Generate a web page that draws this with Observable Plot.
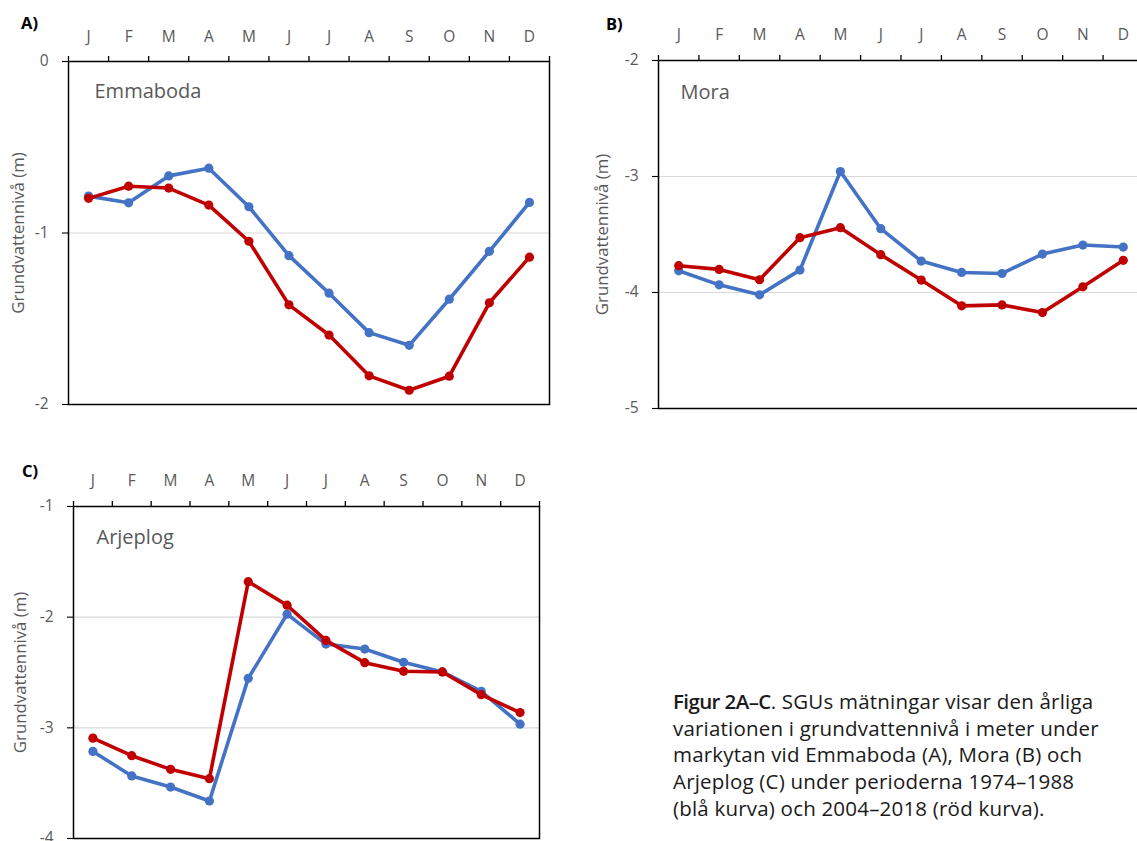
<!DOCTYPE html>
<html>
<head>
<meta charset="utf-8">
<script src="https://cdn.jsdelivr.net/npm/d3@7"></script>
<script src="https://cdn.jsdelivr.net/npm/@observablehq/plot@0.6"></script>
<style>
  html, body { margin: 0; padding: 0; background: #fff; }
  body { width: 1137px; height: 841px; overflow: hidden; position: relative; font-family: "Open Sans", sans-serif; }
  .panel { position: absolute; }
  .panel svg { max-width: none !important; }
  .tag { position: absolute; z-index: 5; font-weight: 700; font-size: 16.5px; line-height: 16.5px; color: #000; font-family: "Open Sans", sans-serif; }
  #caption { position: absolute; z-index: 5; left: 673px; top: 688px; font-size: 20.5px; letter-spacing: 0.2px; line-height: 26.65px; color: #1a1a1a; white-space: nowrap; }
  #caption b { font-weight: 600; letter-spacing: -0.6px; }
</style>
</head>
<body>
<div id="panelA" class="panel" style="left:0px;top:0px;width:559px"></div>
<div id="panelB" class="panel" style="left:570px;top:0px;width:580px"></div>
<div id="panelC" class="panel" style="left:0px;top:450px;width:549px"></div>
<div class="tag" style="left:21px;top:15px">A)</div>
<div class="tag" style="left:606px;top:16px">B)</div>
<div class="tag" style="left:22px;top:463px">C)</div>
<div id="caption"><b>Figur 2A–C</b>. SGUs mätningar visar den årliga<br>variationen i grundvattennivå i meter under<br>markytan vid Emmaboda (A), Mora (B) och<br>Arjeplog (C) under perioderna 1974–1988<br>(blå kurva) och 2004–2018 (röd kurva).</div>
<script>
// Month tick labels
const months = ["J", "F", "M", "A", "M", "J", "J", "A", "S", "O", "N", "D"];

// A) Emmaboda (m)
const emmabodaBlue = [-0.785, -0.824, -0.667, -0.622, -0.847, -1.132, -1.351, -1.581, -1.655, -1.386, -1.107, -0.822];
const emmabodaRed  = [-0.798, -0.727, -0.738, -0.837, -1.048, -1.419, -1.595, -1.833, -1.917, -1.835, -1.407, -1.141];
const emmabodaTicks = [0, -1, -2];

// B) Mora (m)
const moraBlue = [-3.813, -3.934, -4.020, -3.807, -2.957, -3.450, -3.729, -3.827, -3.836, -3.669, -3.591, -3.608];
const moraRed  = [-3.769, -3.801, -3.890, -3.527, -3.441, -3.674, -3.893, -4.115, -4.107, -4.173, -3.951, -3.723];
const moraTicks = [-2, -3, -4, -5];

// C) Arjeplog (m)
const arjeplogBlue = [-3.213, -3.435, -3.535, -3.661, -2.553, -1.973, -2.243, -2.288, -2.408, -2.495, -2.670, -2.967];
const arjeplogRed  = [-3.093, -3.252, -3.375, -3.459, -1.679, -1.892, -2.210, -2.411, -2.489, -2.495, -2.700, -2.862];
const arjeplogTicks = [-1, -2, -3, -4];

const yTitle = "Grundvattennivå (m)";
const BLUE = "#4472C4", RED = "#C00000", GRAY = "#595959";

function panel(cfg) {
  const rows = (vals) => vals.map((v, i) => ({i, v}));
  const xc = d => d.i + 0.5;
  const lo = d3.min(cfg.ticks), hi = d3.max(cfg.ticks);
  const inner = cfg.ticks.filter(t => t !== lo && t !== hi);
  return Plot.plot({
    width: cfg.width, height: cfg.height,
    marginLeft: cfg.ml, marginRight: cfg.mr, marginTop: cfg.mt, marginBottom: cfg.mb,
    style: {fontFamily: "'Open Sans', sans-serif", background: "white", overflow: "visible", maxWidth: "none"},
    x: {type: "linear", domain: [0, 12]},
    y: {type: "linear", domain: [lo, hi]},
    marks: [
      Plot.ruleY(inner, {stroke: "#d9d9d9", strokeWidth: 1.2}),
      // x tick marks at month boundaries
      Plot.axisX(d3.range(13), {anchor: "top", tickSize: 6, tickFormat: () => "", stroke: "#000", strokeWidth: 1.3, label: null}),
      // month labels centered in each month
      Plot.axisX(d3.range(12).map(i => i + 0.5), {anchor: "top", tickSize: 0, tickPadding: cfg.mpad, tickFormat: d => months[Math.floor(d)], fontSize: 15.5, color: GRAY, label: null}),
      // y tick marks
      Plot.axisY(cfg.ticks, {anchor: "left", tickSize: 6, tickFormat: () => "", stroke: "#000", strokeWidth: 1.1, label: null}),
      // y tick labels
      Plot.axisY(cfg.ticks, {anchor: "left", tickSize: 0, tickPadding: 20, fontSize: 15.5, color: GRAY,
        tickFormat: d => d === 0 ? "0" : String(d).replace("−", "-"), label: null}),
      // y axis title
      Plot.text([yTitle], {frameAnchor: "left", dx: cfg.tdx, rotate: -90, fontSize: 16.8, fill: GRAY, lineAnchor: "middle", textAnchor: "middle"}),
      Plot.frame({stroke: "#000", strokeWidth: 1.5}),
      Plot.line(rows(cfg.blue), {x: xc, y: "v", stroke: BLUE, strokeWidth: 3.6}),
      Plot.dot(rows(cfg.blue), {x: xc, y: "v", fill: BLUE, r: 4.6}),
      Plot.line(rows(cfg.red), {x: xc, y: "v", stroke: RED, strokeWidth: 3.6}),
      Plot.dot(rows(cfg.red), {x: xc, y: "v", fill: RED, r: 4.6}),
      Plot.text([cfg.name], {frameAnchor: "top-left", dx: cfg.ndx, dy: cfg.ndy, lineAnchor: "middle", fontSize: 20, fill: GRAY, textAnchor: "start"})
    ]
  });
}

document.getElementById("panelA").append(panel({
  name: "Emmaboda", blue: emmabodaBlue, red: emmabodaRed, ticks: emmabodaTicks,
  width: 559, height: 414, ml: 68, mr: 10, mt: 61, mb: 10, mpad: 20, tdx: -50, ndx: 26, ndy: 30
}));
document.getElementById("panelB").append(panel({
  name: "Mora", blue: moraBlue, red: moraRed, ticks: moraTicks,
  width: 580, height: 418, ml: 88, mr: 7, mt: 60, mb: 10, mpad: 21, tdx: -56, ndx: 22, ndy: 32
}));
document.getElementById("panelC").append(panel({
  name: "Arjeplog", blue: arjeplogBlue, red: arjeplogRed, ticks: arjeplogTicks,
  width: 549, height: 391, ml: 73, mr: 10, mt: 56, mb: 3, mpad: 21, tdx: -53, ndx: 23, ndy: 31
}));
</script>
</body>
</html>
